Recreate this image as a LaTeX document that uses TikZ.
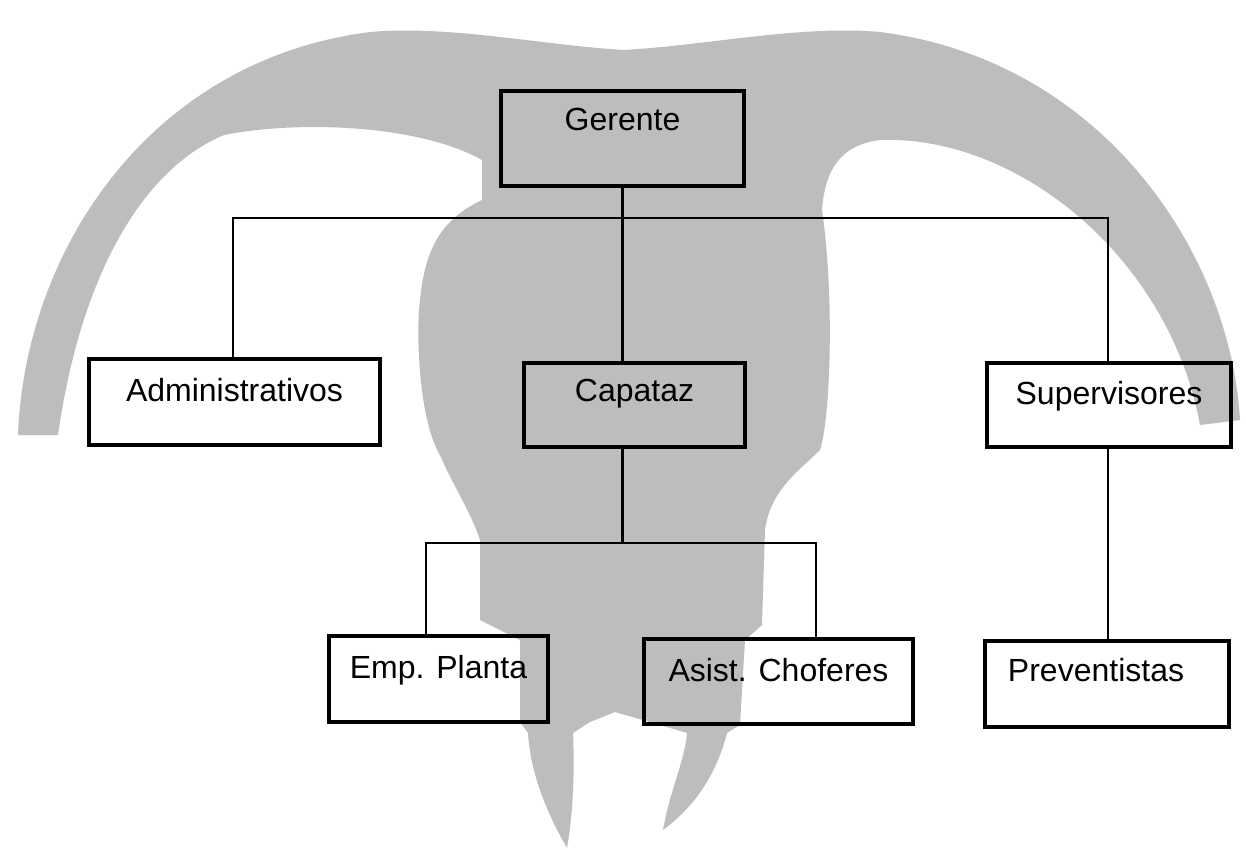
\documentclass[tikz,border=0pt]{standalone}
\usepackage{fontspec}
\setmainfont{Liberation Sans}
\begin{document}
\begin{tikzpicture}[x=1pt,y=-1pt,
  orgbox/.style={draw=black, line width=3.5pt, inner sep=0pt, outer sep=0pt, anchor=north west,
    font=\fontsize{32}{36}\selectfont},
  link/.style={draw=black, line width=2.5pt},
  halftone/.style={fill=black!26, draw=none}]
\fill[white] (0,0) rectangle (1246,850);
\useasboundingbox (0,0) rectangle (1246,850);
% background emblem (halftone)
\path[halftone] (18,435)
  .. controls (25,250) and (150,60) .. (370,32)
  .. controls (450,25) and (540,45) .. (624,50)
  .. controls (710,45) and (800,25) .. (880,32)
  .. controls (1100,60) and (1230,250) .. (1240,420)
  -- (1200,425)
  .. controls (1170,260) and (1020,135) .. (880,140)
  .. controls (840,145) and (825,170) .. (822,210)
  .. controls (835,300) and (830,420) .. (820,450)
  .. controls (800,470) and (770,490) .. (765,530)
  -- (762,625) -- (745,640) -- (740,725) -- (727,733)
  .. controls (715,780) and (690,810) .. (663,830)
  .. controls (670,790) and (685,760) .. (687,733)
  -- (650,722) -- (615,712) -- (590,722) -- (573,733)
  .. controls (575,780) and (572,820) .. (567,848)
  .. controls (545,810) and (530,770) .. (528,733)
  -- (520,722) -- (520,640) -- (480,620) -- (480,540)
  .. controls (470,510) and (450,480) .. (441,457)
  .. controls (418,420) and (416,330) .. (420,300)
  .. controls (425,250) and (440,220) .. (482,200)
  -- (482,160)
  .. controls (420,125) and (300,120) .. (224,135)
  .. controls (140,170) and (80,280) .. (58,435)
  -- cycle;
% boxes
\node[orgbox, minimum width=243pt, text height=40pt, text depth=55pt] (g) at (501,91) {Gerente};
\node[orgbox, minimum width=291pt, text height=42pt, text depth=44pt] (a) at (89,359) {Administrativos};
\node[orgbox, minimum width=221pt, text height=38pt, text depth=46pt] (c) at (524,363) {Capataz};
\node[orgbox, minimum width=244pt, text height=41pt, text depth=43pt] (s) at (987,363) {Supervisores};
\node[orgbox, minimum width=219pt, text height=42pt, text depth=44pt] (e) at (329,636) {Emp. Planta};
\node[orgbox, minimum width=269pt, text height=42pt, text depth=43pt] (ac) at (644,639) {Asist. Choferes};
\node[orgbox, minimum width=244pt, text height=40pt, text depth=46pt] (p) at (985,641) {Preventistas\hspace*{22pt}};
% bus coordinates
\coordinate (busL) at (233,218);
\coordinate (busR) at (1108,218);
\coordinate (b2L) at (426,543);
\coordinate (b2R) at (816,543);
% connectors
\draw[link] (g.south) -- (g.south |- c.north);
\draw[link] (busL |- a.north) -- (busL) -- (busR) -- (busR |- s.north);
\draw[link] (busR |- s.south) -- (busR |- p.north);
\draw[link] (g.south |- c.south) -- (g.south |- b2L);
\draw[link] (b2L |- e.north) -- (b2L) -- (b2R) -- (b2R |- ac.north);
\end{tikzpicture}
\end{document}
